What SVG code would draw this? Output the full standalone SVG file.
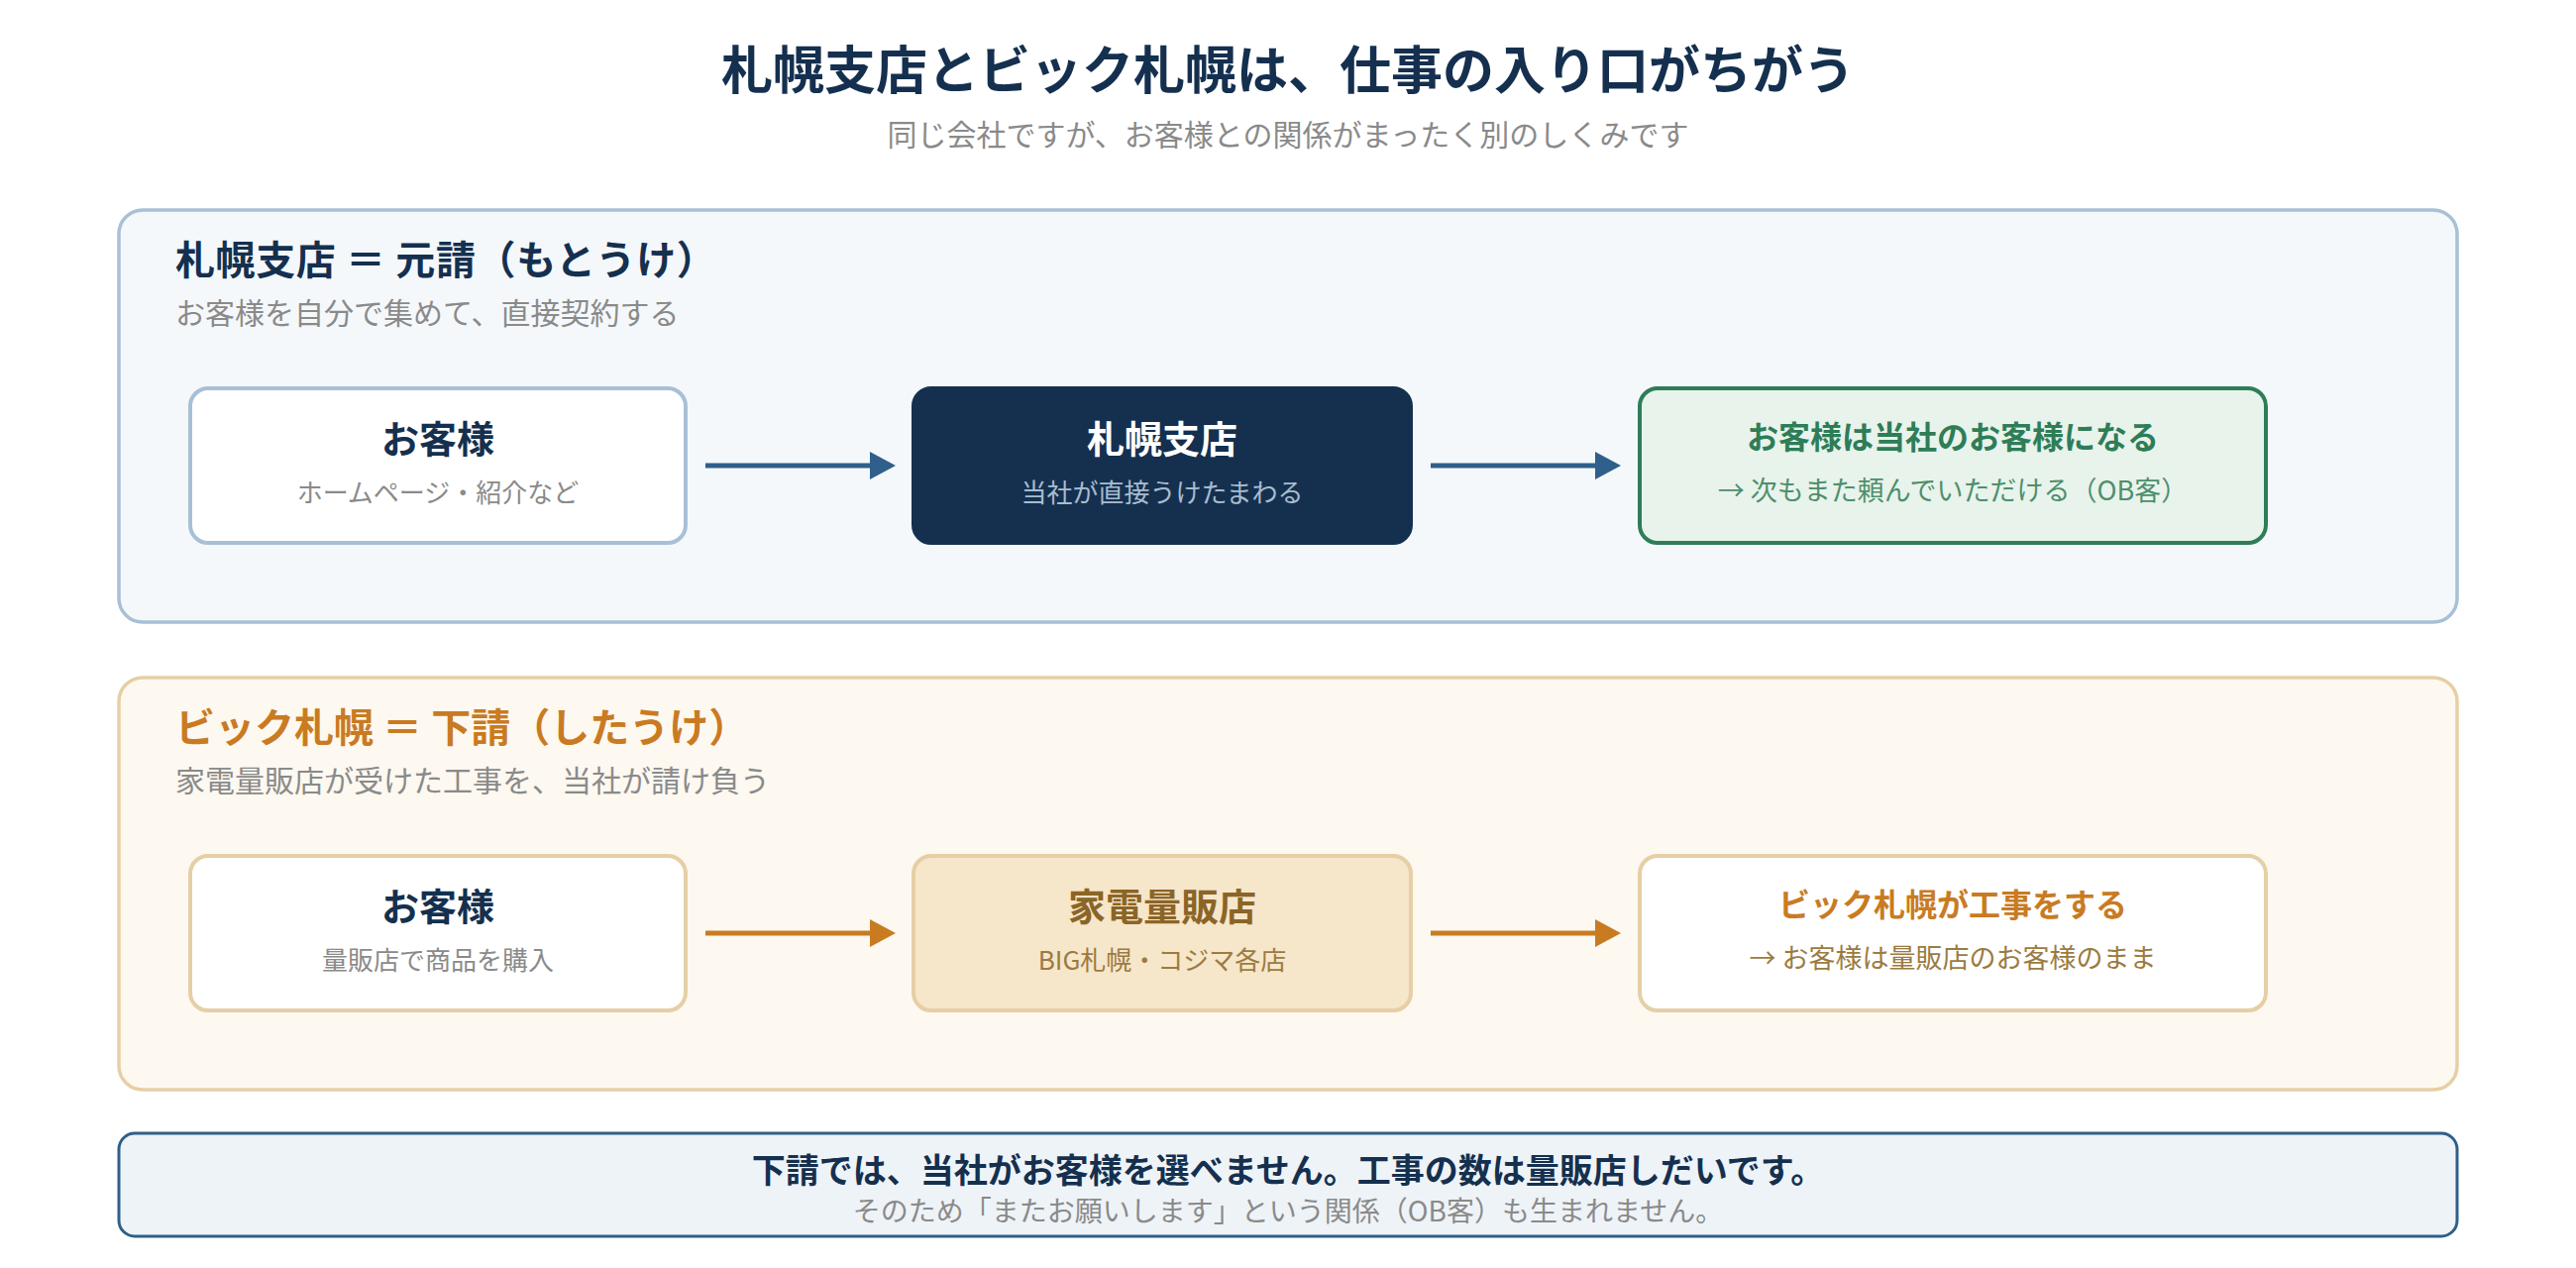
<svg xmlns="http://www.w3.org/2000/svg" width="2600" height="1280" viewBox="0 0 2600 1280">
  <defs>
    <style>
      text { font-family: "Noto Sans CJK JP", "Noto Sans", sans-serif; }
      .b { font-weight: 700; }
      .mid { text-anchor: middle; }
      .navy { fill: #15304f; }
      .gray { fill: #8a8a8a; }
      .orange { fill: #c97b22; }
      .green { fill: #2e7d57; }
      .t-title { font-size: 52px; }
      .t-sub { font-size: 30px; }
      .t-head { font-size: 40px; }
      .t-desc { font-size: 30px; }
      .t-node { font-size: 38px; }
      .t-node2 { font-size: 32px; }
      .t-small { font-size: 26px; }
      .t-small2 { font-size: 27px; }
      .panel-blue { fill: #f4f8fb; stroke: #a8c0d6; stroke-width: 3.5; }
      .panel-orange { fill: #fdf8f0; stroke: #e6cfa6; stroke-width: 3.5; }
      .box { stroke-width: 4; }
      .arrow-blue { stroke: #2f5f8a; stroke-width: 5; fill: none; }
      .arrow-orange { stroke: #c97b22; stroke-width: 5; fill: none; }
    </style>
    <marker id="headBlue" markerUnits="userSpaceOnUse" markerWidth="26" markerHeight="28" refX="0" refY="14" orient="auto" viewBox="0 0 26 28">
      <path d="M0,0 L26,14 L0,28 Z" fill="#2f5f8a"/>
    </marker>
    <marker id="headOrange" markerUnits="userSpaceOnUse" markerWidth="26" markerHeight="28" refX="0" refY="14" orient="auto" viewBox="0 0 26 28">
      <path d="M0,0 L26,14 L0,28 Z" fill="#c97b22"/>
    </marker>
  </defs>

  <rect x="0" y="0" width="2600" height="1280" fill="#ffffff"/>

  <g id="header">
    <text x="1300" y="90" class="b mid navy t-title">札幌支店とビック札幌は、仕事の入り口がちがう</text>
    <text x="1300" y="147" class="mid gray t-sub">同じ会社ですが、お客様との関係がまったく別のしくみです</text>
  </g>

  <g id="panel-motouke">
    <rect x="120" y="212" width="2360" height="416" rx="24" class="panel-blue"/>
    <text x="177" y="277" class="b navy t-head" letter-spacing="0.6">札幌支店 ＝ 元請（もとうけ）</text>
    <text x="177" y="327" class="gray t-desc">お客様を自分で集めて、直接契約する</text>
  </g>

  <g id="node-customer-1">
    <rect x="192" y="392" width="500" height="156" rx="18" class="box" fill="#ffffff" stroke="#a8c0d6"/>
    <text x="442" y="457" class="b mid navy t-node">お客様</text>
    <text x="442" y="507" class="mid gray t-small">ホームページ・紹介など</text>
  </g>

  <g id="node-sapporo-branch">
    <rect x="922" y="392" width="502" height="156" rx="18" class="box" fill="#15304f" stroke="#15304f"/>
    <text x="1173" y="457" class="b mid t-node" fill="#ffffff">札幌支店</text>
    <text x="1173" y="507" class="mid t-small" fill="#a8bccf">当社が直接うけたまわる</text>
  </g>

  <g id="node-ob-customer">
    <rect x="1655" y="392" width="632" height="156" rx="18" class="box" fill="#e8f3ec" stroke="#2e7d57"/>
    <text x="1971" y="453" class="b mid green t-node2">お客様は当社のお客様になる</text>
    <text x="1971" y="505" class="mid t-small2" fill="#4e8f6b">→ 次もまた頼んでいただける（OB客）</text>
  </g>

  <g id="panel-shitauke">
    <rect x="120" y="684" width="2360" height="416" rx="24" class="panel-orange"/>
    <text x="177" y="749" class="b orange t-head">ビック札幌 ＝ 下請（したうけ）</text>
    <text x="177" y="799" class="gray t-desc">家電量販店が受けた工事を、当社が請け負う</text>
  </g>

  <g id="node-customer-2">
    <rect x="192" y="864" width="500" height="156" rx="18" class="box" fill="#ffffff" stroke="#e6cfa6"/>
    <text x="442" y="929" class="b mid navy t-node">お客様</text>
    <text x="442" y="979" class="mid gray t-small">量販店で商品を購入</text>
  </g>

  <g id="node-retailer">
    <rect x="922" y="864" width="502" height="156" rx="18" class="box" fill="#f6e6ca" stroke="#e6cfa6"/>
    <text x="1173" y="929" class="b mid t-node" fill="#8b6527">家電量販店</text>
    <text x="1173" y="979" class="mid t-small" fill="#9b7b40">BIG札幌・コジマ各店</text>
  </g>

  <g id="node-big-sapporo">
    <rect x="1655" y="864" width="632" height="156" rx="18" class="box" fill="#ffffff" stroke="#e6cfa6"/>
    <text x="1971" y="925" class="b mid orange t-node2">ビック札幌が工事をする</text>
    <text x="1971" y="977" class="mid t-small2" fill="#9b7b40">→ お客様は量販店のお客様のまま</text>
  </g>

  <g id="connectors">
    <line x1="712" y1="470" x2="878" y2="470" class="arrow-blue" marker-end="url(#headBlue)"/>
    <line x1="1444" y1="470" x2="1610" y2="470" class="arrow-blue" marker-end="url(#headBlue)"/>
    <line x1="712" y1="942" x2="878" y2="942" class="arrow-orange" marker-end="url(#headOrange)"/>
    <line x1="1444" y1="942" x2="1610" y2="942" class="arrow-orange" marker-end="url(#headOrange)"/>
  </g>

  <g id="note">
    <rect x="120" y="1144" width="2360" height="104" rx="16" fill="#eef3f7" stroke="#2f5f8a" stroke-width="3"/>
    <text x="1300" y="1194" class="b mid navy" font-size="34">下請では、当社がお客様を選べません。工事の数は量販店しだいです。</text>
    <text x="1300" y="1233" class="mid gray" font-size="28">そのため「またお願いします」という関係（OB客）も生まれません。</text>
  </g>
</svg>
